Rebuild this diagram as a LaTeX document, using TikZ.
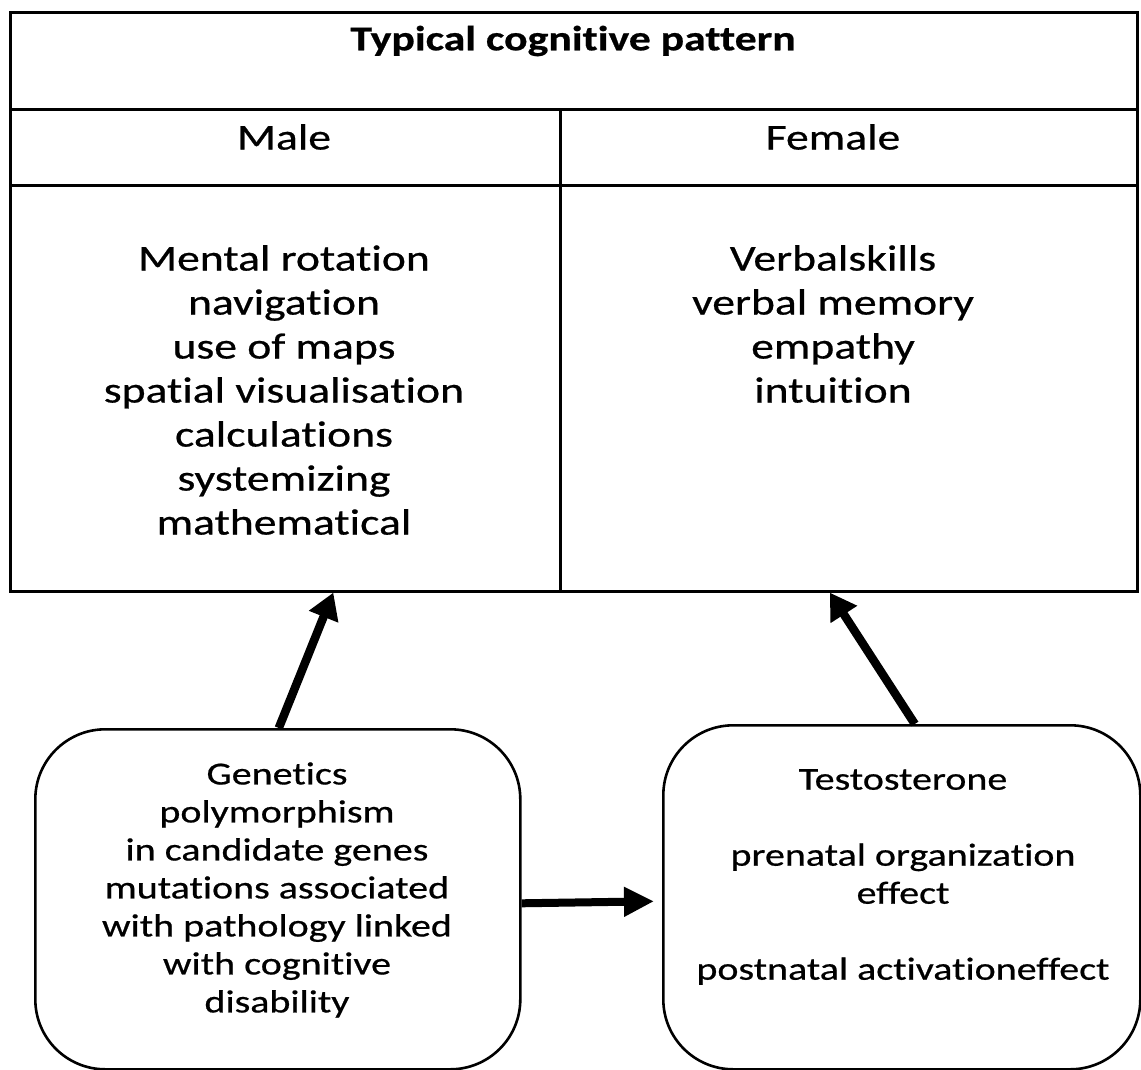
\documentclass[tikz,border=0pt]{standalone}
\usepackage{fontspec}
\setmainfont{Carlito}[Ligatures={NoCommon},FakeStretch=1.25,FakeBold=0.6,BoldFeatures={FakeStretch=1.25}]
\usetikzlibrary{arrows.meta,calc}
\begin{document}
\begin{tikzpicture}[x=1pt,y=-1pt,
  cell/.style={draw,line width=2.6pt,rectangle,inner sep=0pt,anchor=north west},
  bigtxt/.style={font=\fontsize{36.5}{44}\selectfont,align=center,inner sep=0pt},
  boxtxt/.style={font=\fontsize{32}{38}\selectfont,align=center,inner sep=0pt},
  rbox/.style={draw,line width=2.6pt,rectangle,rounded corners=70pt,inner sep=0pt,anchor=north west},
  bigarrow/.style={line width=8.5pt,-{Triangle[length=26pt,width=30pt]}}
]
\useasboundingbox (0,0) rectangle (1141,1070);
\fill[white] (0,0) rectangle (1141,1070);
% table
\node[cell,minimum width=1127pt,minimum height=97pt] (title) at (9,11) {};
\node[cell,minimum width=550pt,minimum height=76pt] (malehead) at (9,108) {};
\node[cell,minimum width=577pt,minimum height=76pt] (femhead) at (559,108) {};
\node[cell,minimum width=550pt,minimum height=406pt] (malebody) at (9,184) {};
\node[cell,minimum width=577pt,minimum height=406pt] (fembody) at (559,184) {};
\node[bigtxt,font=\fontsize{35}{44}\selectfont\bfseries] (titletxt) at (573,41) {Typical cognitive pattern};
\node[bigtxt] (maletxt) at (284,137) {Male};
\node[bigtxt] (femtxt) at (833,137) {Female};
\node[bigtxt,anchor=north] (malelist) at (284,245) {Mental rotation\\navigation\\use of maps\\spatial visualisation\\calculations\\systemizing\\mathematical};
\node[bigtxt,anchor=north] (femlist) at (833,245) {Verbalskills\\verbal memory\\empathy\\intuition};
% bottom boxes
\node[rbox,minimum width=485pt,minimum height=340pt] (genbox) at (34,728) {};
\node[rbox,minimum width=477pt,minimum height=344pt] (testbox) at (662,724) {};
\node[boxtxt] (gentxt) at (277,890) {Genetics\\polymorphism\\in candidate genes\\mutations associated\\with pathology linked\\with cognitive\\disability};
\node[boxtxt] (testtxt) at (903,877) {Testosterone\\[38pt]prenatal organization\\effect\\[38pt]postnatal activationeffect};
% arrows
\draw[bigarrow] ($(genbox.north)+(1,0)$) -- ($(malebody.south)+(48,0)$);
\draw[bigarrow] ($(testbox.north)+(13,0)$) -- ($(fembody.south)+(-19,0)$);
\draw[line width=8pt,-{Triangle[length=30pt,width=28pt]}] ($(genbox.east)+(0,4)$) -- ($(testbox.west)+(-8,4)$);
\end{tikzpicture}
\end{document}
